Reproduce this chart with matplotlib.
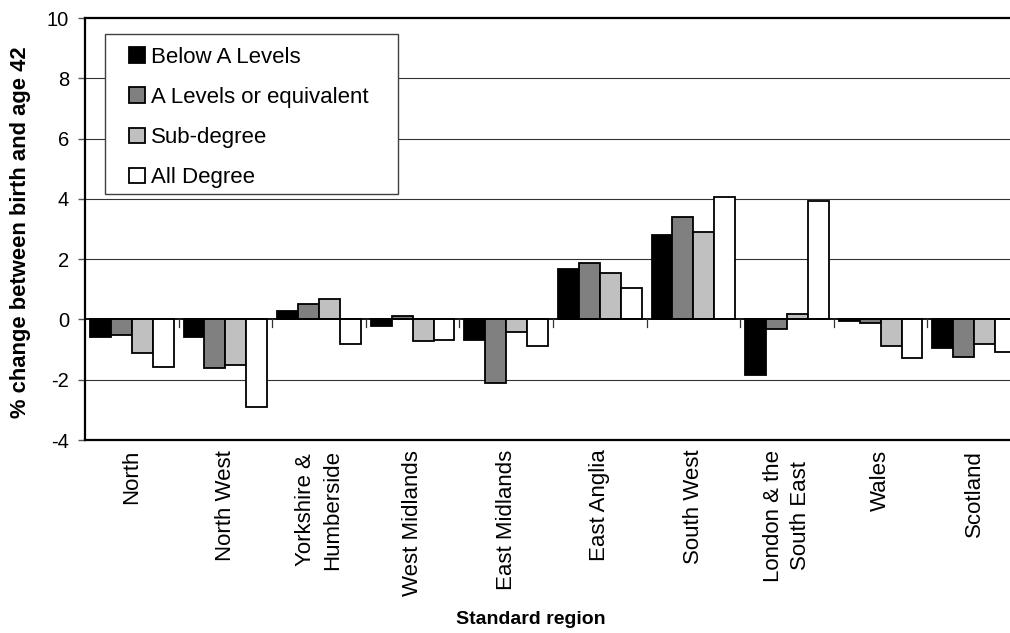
import matplotlib
matplotlib.use("Agg")
import matplotlib.pyplot as plt
from matplotlib.patches import Rectangle
import numpy as np

plt.rcParams['font.family'] = ['Liberation Sans', 'DejaVu Sans']

regions = ["North", "North West", "Yorkshire &\nHumberside", "West Midlands",
           "East Midlands", "East Anglia", "South West", "London & the\nSouth East",
           "Wales", "Scotland"]
series_names = ["Below A Levels", "A Levels or equivalent", "Sub-degree", "All Degree"]
below_a = [-0.57, -0.59, 0.28, -0.22, -0.67, 1.67, 2.80, -1.84, -0.06, -0.94]
a_levels = [-0.51, -1.61, 0.52, 0.13, -2.12, 1.86, 3.40, -0.32, -0.13, -1.23]
sub_degree = [-1.10, -1.50, 0.67, -0.70, -0.42, 1.54, 2.91, 0.19, -0.88, -0.81]
all_degree = [-1.59, -2.89, -0.80, -0.68, -0.88, 1.04, 4.07, 3.93, -1.27, -1.07]
colors = ["#000000", "#808080", "#C0C0C0", "#FFFFFF"]
yticks = [-4, -2, 0, 2, 4, 6, 8, 10]

W, H = 1010, 633
fig = plt.figure(figsize=(W / 100, H / 100), dpi=100)
ax = fig.add_axes([85 / W, (H - 440) / H, 936 / W, 422 / H])

x = np.arange(len(regions))
w = 0.2235
data = [below_a, a_levels, sub_degree, all_degree]
for i, (vals, c, name) in enumerate(zip(data, colors, series_names)):
    ax.bar(x + (i - 1.5) * w, vals, width=w, color=c, edgecolor="black",
           linewidth=1.3, label=name, zorder=3)

ax.set_xlim(-0.5, len(regions) - 0.5)
ax.set_ylim(-4, 10)
ax.set_yticks(yticks)
ax.set_yticklabels([str(t) for t in yticks], fontsize=14.5)
for gy in [-2, 2, 4, 6, 8]:
    ax.axhline(gy, color="#333333", linewidth=0.8, zorder=1)
ax.axhline(0, color="black", linewidth=1.3, zorder=4)
# category boundary ticks on the zero line
for b in np.arange(0.5, len(regions) - 0.5, 1.0):
    ax.plot([b, b], [0, -0.24], color="#333333", linewidth=0.9, zorder=4)

ax.set_xticks(x)
ax.set_xticklabels(regions, rotation=90, fontsize=16, ha="center", va="top",
                   multialignment="center", linespacing=1.35)
ax.tick_params(axis="x", length=0, pad=7)
ax.tick_params(axis="y", length=5, width=1, color="#555555", pad=6.5)

for s in ["left", "top", "bottom"]:
    ax.spines[s].set_linewidth(1.6)
    ax.spines[s].set_color("black")
ax.spines["right"].set_visible(False)

fig.text(21 / W, 1 - 232 / H, "% change between birth and age 42", fontsize=15.8,
         fontweight="bold", rotation=90, ha="center", va="center")
fig.text(531 / W, 1 - 620 / H, "Standard region", fontsize=14, fontweight="bold",
         ha="center", va="center")

# legend box
box = Rectangle((105 / W, 1 - 194 / H), (398 - 105) / W, (194 - 34) / H,
                transform=fig.transFigure, facecolor="white", edgecolor="#404040",
                linewidth=1.0, zorder=5)
fig.add_artist(box)
leg = ax.legend(loc="upper left", bbox_to_anchor=(129 / W, 1 - 47 / H),
                bbox_transform=fig.transFigure,
                fontsize=16, frameon=False, handlelength=0.72,
                handleheight=0.72, handletextpad=0.25, labelspacing=0.86,
                borderpad=0, borderaxespad=0)
leg.set_zorder(6)
leg.remove()
fig.add_artist(leg)

fig.savefig("out.png", dpi=100)
